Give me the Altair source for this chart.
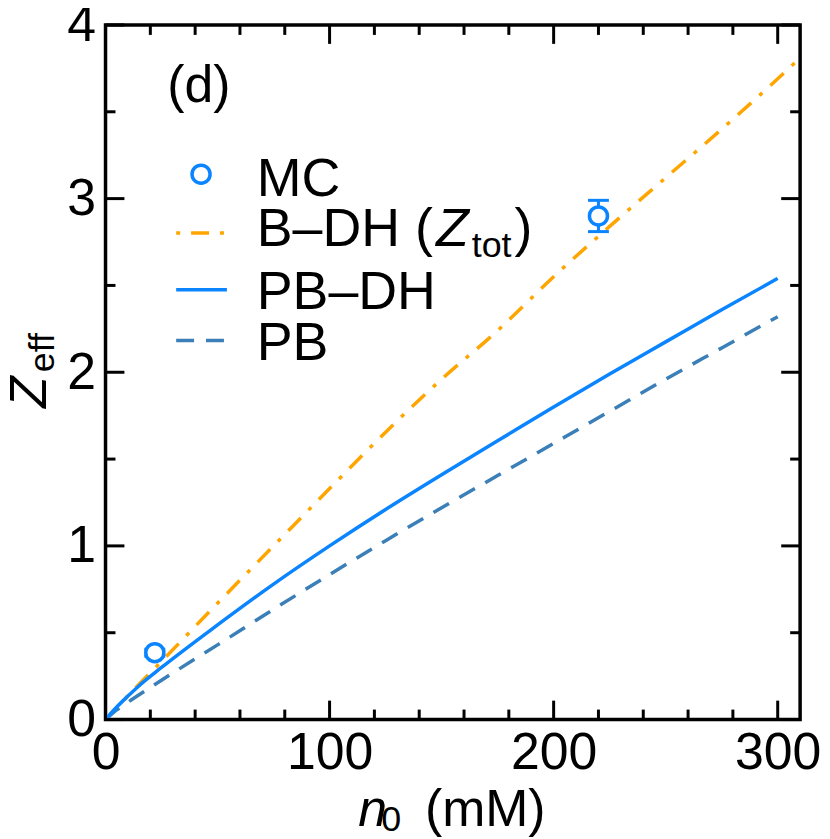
import altair as alt
import pandas as pd

# ---------------- data ----------------
bdh_x = [0, 10, 25, 50, 75, 100, 125, 150, 175, 200, 225, 250, 275, 300, 310]
bdh_y = [0, 0.137, 0.335, 0.67, 1.0, 1.33, 1.655, 1.96, 2.24, 2.55, 2.84, 3.12, 3.40, 3.69, 3.81]

pbdh_x = [0, 5, 10, 15, 25, 50, 75, 100, 125, 150, 175, 200, 225, 250, 275, 300]
pbdh_y = [0, 0.072, 0.135, 0.195, 0.30, 0.545, 0.78, 1.0, 1.21, 1.41, 1.605, 1.80, 1.99, 2.175, 2.36, 2.54]

pb_x = [0, 5, 10, 20, 30, 50, 75, 100, 125, 150, 175, 200, 225, 250, 275, 300]
pb_y = [0, 0.055, 0.1, 0.185, 0.268, 0.43, 0.635, 0.835, 1.03, 1.22, 1.405, 1.59, 1.775, 1.96, 2.14, 2.32]

mc_x = [22, 220]
mc_y = [0.385, 2.90]
mc_err = [0.02, 0.09]

x_major = [0, 100, 200, 300]
x_minor = [20, 40, 60, 80, 120, 140, 160, 180, 220, 240, 260, 280]
y_major = [0, 1, 2, 3, 4]
y_minor = [0.5, 1.5, 2.5, 3.5]

legend_labels = ["MC", "B\u2013DH (", "PB\u2013DH", "PB"]
panel_label = "(d)"

# ---------------- style ----------------
BLUE = "#0a84ff"
STEEL = "#3b7fb9"
ORANGE = "#ffa500"
FONT = "Liberation Sans"
FS = 52
LFS = 54
SUB = 36
W = 698
H = 698
MAJ = 19
MIN = 10
LW = 3.5

xs = alt.Scale(domain=[0, 310], nice=False, zero=False)
ys = alt.Scale(domain=[0, 4], nice=False, zero=False)

x_axis = alt.Axis(values=x_major, ticks=False, domain=False, grid=False, tickSize=0,
                  labelFontSize=FS, labelFont=FONT, labelColor="black", labelPadding=8,
                  labelFlush=False, labelOverlap=False, title=None)
y_axis = alt.Axis(values=y_major, ticks=False, domain=False, grid=False, tickSize=0,
                  labelFontSize=FS, labelFont=FONT, labelColor="black", labelPadding=10,
                  labelFlush=False, labelOverlap=False, title=None)


def X(field):
    return alt.X(field, type="quantitative", scale=xs, axis=x_axis)


def Y(field):
    return alt.Y(field, type="quantitative", scale=ys, axis=y_axis)


def curve(xv, yv, color, dash=None):
    df = pd.DataFrame({"x": xv, "y": yv})
    kw = dict(color=color, strokeWidth=LW, clip=True, strokeCap="butt", interpolate="monotone")
    if dash:
        kw["strokeDash"] = dash
    return alt.Chart(df).mark_line(**kw).encode(x=X("x"), y=Y("y"))


def ticks(vals, length, side):
    df = pd.DataFrame({"v": vals})
    c = alt.Chart(df).mark_rule(color="black", strokeWidth=3)
    if side == "bottom":
        return c.encode(x=X("v"), y=alt.value(H), y2=alt.value(H - length))
    if side == "top":
        return c.encode(x=X("v"), y=alt.value(0), y2=alt.value(length))
    if side == "left":
        return c.encode(y=Y("v"), x=alt.value(0), x2=alt.value(length))
    return c.encode(y=Y("v"), x=alt.value(W), x2=alt.value(W - length))


def label(txt, x, y, size=LFS, italic=False, angle=None):
    kw = dict(font=FONT, fontSize=size, align="left", baseline="alphabetic", color="black")
    if italic:
        kw["fontStyle"] = "italic"
    if angle is not None:
        kw["angle"] = angle
    return alt.Chart(pd.DataFrame({"t": [txt]})).mark_text(**kw).encode(
        x=alt.value(x), y=alt.value(y), text="t:N")


layers = []
layers.append(curve(bdh_x, bdh_y, ORANGE, dash=[18, 11, 4, 11]))
layers.append(curve(pb_x, pb_y, STEEL, dash=[18, 12]))
layers.append(curve(pbdh_x, pbdh_y, BLUE))

# MC points with error bars
mc = pd.DataFrame({"x": mc_x, "y": mc_y,
                   "lo": [a - e for a, e in zip(mc_y, mc_err)],
                   "hi": [a + e for a, e in zip(mc_y, mc_err)]})
base = alt.Chart(mc)
layers.append(base.mark_rule(color=BLUE, strokeWidth=3).encode(x=X("x"), y=Y("lo"), y2="hi:Q"))
for f in ["lo", "hi"]:
    layers.append(base.mark_tick(color=BLUE, orient="horizontal", size=21, thickness=3, opacity=1).encode(
        x=X("x"), y=Y(f)))
layers.append(base.mark_point(shape="circle", filled=True, fill="white", stroke=BLUE, strokeWidth=LW,
                              size=330, opacity=1).encode(x=X("x"), y=Y("y")))

# ticks on all four sides (inward)
for side in ["bottom", "top"]:
    layers.append(ticks(x_major, MAJ, side))
    layers.append(ticks(x_minor, MIN, side))
for side in ["left", "right"]:
    layers.append(ticks(y_major, MAJ, side))
    layers.append(ticks(y_minor, MIN, side))

# legend
one = pd.DataFrame({"a": [0]})
layers.append(alt.Chart(one).mark_point(shape="circle", filled=False, stroke=BLUE, strokeWidth=LW,
                                        size=330, opacity=1).encode(x=alt.value(96), y=alt.value(150)))
layers.append(alt.Chart(one).mark_rule(color=ORANGE, strokeWidth=LW, strokeDash=[18, 11, 4, 11],
                                       strokeDashOffset=29).encode(
    x=alt.value(71), x2=alt.value(121), y=alt.value(209)))
layers.append(alt.Chart(one).mark_rule(color=BLUE, strokeWidth=LW).encode(
    x=alt.value(71), x2=alt.value(122), y=alt.value(266)))
layers.append(alt.Chart(one).mark_rule(color=STEEL, strokeWidth=LW, strokeDash=[18, 12]).encode(
    x=alt.value(71), x2=alt.value(121), y=alt.value(317)))

layers.append(label(legend_labels[0], 152, 172))
layers.append(label(legend_labels[1], 152, 222))
layers.append(label("Z", 332, 222, italic=True))
layers.append(label("tot", 368, 233, size=SUB))
layers.append(label(")", 411, 222))
layers.append(label(legend_labels[2], 152, 285))
layers.append(label(legend_labels[3], 152, 337))

# panel label
layers.append(label(panel_label, 62, 77, size=FS))

# axis titles
layers.append(label("n", 254, 805, size=FS, italic=True))
layers.append(label("0", 277, 810, size=SUB))
layers.append(label("(mM)", 321, 805, size=FS))
layers.append(label("Z", -60, 385, size=FS, italic=True, angle=270))
layers.append(label("eff", -52, 349, size=SUB, angle=270))

chart = alt.layer(*layers).properties(
    width=W, height=H,
    padding={"left": 98, "top": 15, "right": 22, "bottom": 118},
    autosize="none",
).configure_view(stroke="black", strokeWidth=3.5)

chart.save("out.html", embed_options={"renderer": "svg", "actions": False})
